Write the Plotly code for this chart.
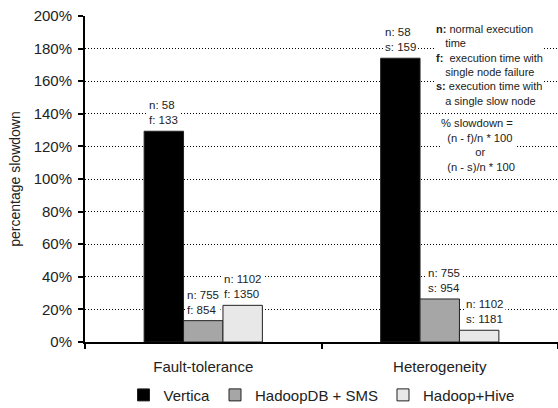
import plotly.graph_objects as go

categories = ["Fault-tolerance", "Heterogeneity"]
series_names = ["Vertica", "HadoopDB + SMS", "Hadoop+Hive"]
vertica = [129.3, 174.1]
hadoopdb = [13.1, 26.4]
hive = [22.5, 7.2]
bar_labels = [
    ["n: 58<br>f: 133", "n: 58<br>s: 159"],
    ["n: 755<br>f: 854", "n: 755<br>s: 954"],
    ["n: 1102<br>f: 1350", "n: 1102<br>s: 1181"],
]
colors = ["#000000", "#a6a6a6", "#e8e8e8"]
y_ticks = list(range(0, 201, 20))

FONT = "Arial, Liberation Sans, sans-serif"
W, H = 558, 408
ML, MR, MT, MB = 85, 0, 16, 66
bargap = 0.5

fig = go.Figure()
for name, vals, col in zip(series_names, [vertica, hadoopdb, hive], colors):
    fig.add_trace(go.Bar(
        x=categories, y=vals, name=name,
        marker=dict(color=col, line=dict(color="#222222", width=1)),
    ))

# label offsets derived from bar geometry
plot_w = W - ML - MR
cat_px = plot_w / len(categories)
bar_px = cat_px * (1 - bargap) / 3
label_nudge = [[0, 0], [0, 4], [0, 6]]
for i, vals in enumerate([vertica, hadoopdb, hive]):
    for j, cat in enumerate(categories):
        fig.add_annotation(
            x=cat, y=vals[j], xref="x", yref="y",
            text=bar_labels[i][j], showarrow=False,
            xanchor="center", yanchor="bottom",
            xshift=(i - 1) * bar_px + label_nudge[i][j], yshift=3,
            align="left", bgcolor="white",
            font=dict(family=FONT, size=11.5, color="#222222"),
        )

nb = "\u00a0"
key_text = (
    "<b>n:</b> normal execution<br>"
    + nb * 3 + "time<br>"
    + "<b>f:</b>" + nb * 2 + "execution time with<br>"
    + nb * 3 + "single node failure<br>"
    + "<b>s:</b> execution time with<br>"
    + nb * 3 + "a single slow node"
)
formula_text = (
    "% slowdown =<br>"
    + nb * 2 + "(n - f)/n * 100<br>"
    + nb * 11 + "or<br>"
    + nb * 2 + "(n - s)/n * 100"
)
fig.add_annotation(
    x=0.739, y=0.9816, xref="paper", yref="paper",
    text=key_text, showarrow=False, xanchor="left", yanchor="top",
    align="left", bgcolor="white", borderpad=0,
    font=dict(family=FONT, size=11, color="#222222"),
)
fig.add_annotation(
    x=0.7505, y=0.693, xref="paper", yref="paper",
    text=formula_text, showarrow=False, xanchor="left", yanchor="top",
    align="left", bgcolor="white", borderpad=0,
    font=dict(family=FONT, size=11.2, color="#222222"),
)

fig.update_layout(
    width=W, height=H,
    margin=dict(l=ML, r=MR, t=MT, b=MB, autoexpand=False),
    paper_bgcolor="white", plot_bgcolor="white",
    barmode="group", bargap=bargap, bargroupgap=0,
    font=dict(family=FONT, size=15, color="#222222"),
    showlegend=True,
    legend=dict(
        orientation="h", x=0.5, xanchor="center", y=-0.163, yanchor="middle",
        font=dict(family=FONT, size=15, color="#222222"),
        itemwidth=30, traceorder="normal",
    ),
)
fig.update_yaxes(
    range=[0, 200], tickvals=y_ticks, ticktext=[f"{v}%" for v in y_ticks],
    showgrid=True, gridcolor="#000000", griddash="1px,2px", gridwidth=1,
    showline=True, linecolor="#000000", linewidth=2,
    ticks="outside", ticklen=5, tickcolor="#000000", tickwidth=1.5,
    zeroline=False, automargin=False, ticklabelstandoff=3,
    tickfont=dict(family=FONT, size=15, color="#222222"),
    title=dict(text="percentage slowdown", standoff=10,
               font=dict(family=FONT, size=14, color="#222222")),
)
fig.update_xaxes(
    showline=True, linecolor="#000000", linewidth=2, automargin=False,
    ticks="outside", tickson="boundaries", ticklen=5, tickcolor="#000000", tickwidth=1.5,
    tickfont=dict(family=FONT, size=15, color="#222222"),
    ticklabelstandoff=10,
)

fig.write_html(
    "out.html",
    config={"displayModeBar": False},
    post_script="document.body.style.margin='0';document.body.style.padding='0';",
)
